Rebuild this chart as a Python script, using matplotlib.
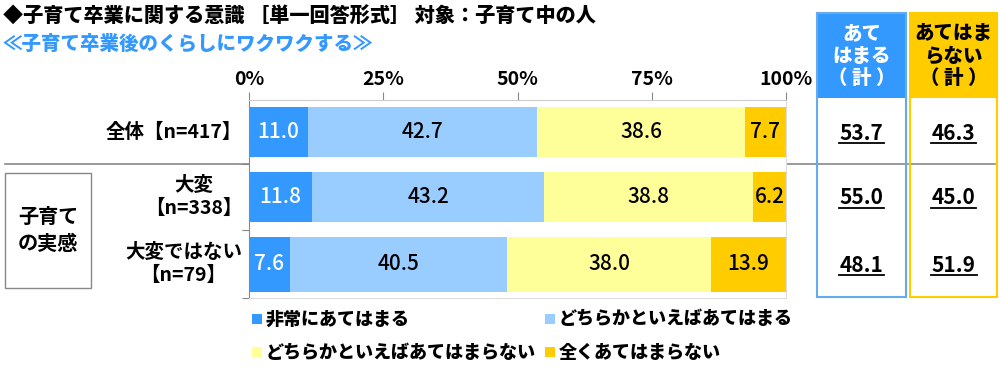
import matplotlib
matplotlib.use('Agg')
import matplotlib.pyplot as plt
from matplotlib.patches import Rectangle

plt.rcParams['font.family'] = ['Noto Sans CJK JP', 'DejaVu Sans']

# data
categories = ['全体【n=417】', '大変\n【n=338】', '大変ではない\n【n=79】']
series_names = ['非常にあてはまる', 'どちらかといえばあてはまる',
                'どちらかといえばあてはまらない', '全くあてはまらない']
values = [
    [11.0, 42.7, 38.6, 7.7],
    [11.8, 43.2, 38.8, 6.2],
    [7.6, 40.5, 38.0, 13.9],
]
total_yes = [53.7, 55.0, 48.1]
total_no = [46.3, 45.0, 51.9]
xticks = [0, 25, 50, 75, 100]

colors = ['#3399FF', '#99CCFF', '#FFFF99', '#FFCC00']
text_colors = ['white', 'black', 'black', 'black']

W, H = 1000, 371
fig = plt.figure(figsize=(W / 100, H / 100), dpi=100)

# overlay in pixel coordinates
ov = fig.add_axes([0, 0, 1, 1])
ov.set_xlim(0, W)
ov.set_ylim(H, 0)
ov.axis('off')

def px_axes(x0, y0, x1, y1):
    return fig.add_axes([x0 / W, 1 - y1 / H, (x1 - x0) / W, (y1 - y0) / H])

# bar axes
ax = px_axes(249, 100, 786, 298)
ax.set_xlim(0, 100)
ax.set_ylim(298, 100)
row_y = [132, 197, 264]
bar_h = [50, 50, 55]
for i, row in enumerate(values):
    left = 0
    for j, v in enumerate(row):
        ax.barh(row_y[i], v, left=left, height=bar_h[i], color=colors[j], edgecolor='none')
        ax.text(left + v / 2, row_y[i], f'{v:.1f}', ha='center', va='center',
                fontsize=15, fontweight='medium', color=text_colors[j])
        left += v
ax.xaxis.tick_top()
ax.set_xticks(xticks)
ax.set_xticklabels([f'{t}%' for t in xticks], fontsize=14, fontweight='bold')
ax.tick_params(axis='x', length=6, color='#888888', pad=2)
ax.set_yticks([164, 230, 298])
ax.set_yticklabels([])
ax.tick_params(axis='y', length=5, color='#888888', direction='out')
for s in ['top', 'bottom', 'right']:
    ax.spines[s].set_color('#DDDDDD')
ax.spines['left'].set_color('#888888')
ax.spines['top'].set_color('#CCCCCC')

# row labels
ov.text(242, 132, categories[0], ha='right', va='center', fontsize=14, fontweight='bold')
ov.text(242, 197, categories[1], ha='right', va='center', fontsize=14,
        fontweight='bold', multialignment='center', linespacing=1.3)
ov.text(242, 264, categories[2], ha='right', va='center', fontsize=14,
        fontweight='bold', multialignment='center', linespacing=1.3)

# separator line
ov.plot([5, 995], [164, 164], color='#888888', lw=1.2, zorder=1)

# group box
ov.add_patch(Rectangle((5, 173), 86, 115, fill=False, edgecolor='#888888', lw=1))
ov.text(48, 230, '子育て\nの実感', ha='center', va='center', fontsize=14.5,
        fontweight='bold', linespacing=1.35)

# titles
ov.text(3, 17, '◆子育て卒業に関する意識 ［単一回答形式］ 対象：子育て中の人',
        ha='left', va='center', fontsize=14.5, fontweight='heavy')
ov.text(3, 44, '≪子育て卒業後のくらしにワクワクする≫', ha='left', va='center',
        fontsize=14, fontweight='heavy', color='#3399FF')

# right total boxes
boxes = [
    (817, 906, '#3399FF', '#66AAEE', 'あて\nはまる\n（ 計 ）', 'white', total_yes),
    (910, 997, '#FFCC00', '#FFCC00', 'あてはま\nらない\n（ 計 ）', 'black', total_no),
]
fig.canvas.draw()
renderer = fig.canvas.get_renderer()
for x0, x1, fill, edge, head, hcol, vals in boxes:
    ov.add_patch(Rectangle((x0, 13), x1 - x0, 85, facecolor=fill, edgecolor='none', zorder=2))
    ov.add_patch(Rectangle((x0, 13), x1 - x0, 284, fill=False, edgecolor=edge, lw=1.5, zorder=3))
    ov.text((x0 + x1) / 2, 56, head, ha='center', va='center', fontsize=14,
            fontweight='heavy', color=hcol, linespacing=1.25, zorder=4)
    for i, v in enumerate(vals):
        t = ov.text((x0 + x1) / 2, row_y[i] + 1, f'{v:.1f}', ha='center', va='center',
                    fontsize=15, fontweight='bold', zorder=4)
        bb = t.get_window_extent(renderer)
        ov.plot([bb.x0 - 1, bb.x1 + 1], [H - bb.y0 - 1, H - bb.y0 - 1], color='black', lw=1.3, zorder=4)

# legend
legend_pos = [(252, 319), (545, 319), (252, 352), (545, 352)]
for (lx, ly), name, c in zip(legend_pos, series_names, colors):
    ov.add_patch(Rectangle((lx, ly - 5), 10, 10, facecolor=c, edgecolor='none'))
    ov.text(lx + 14, ly, name, ha='left', va='center', fontsize=13, fontweight='heavy')

fig.savefig('out.png', dpi=100)
